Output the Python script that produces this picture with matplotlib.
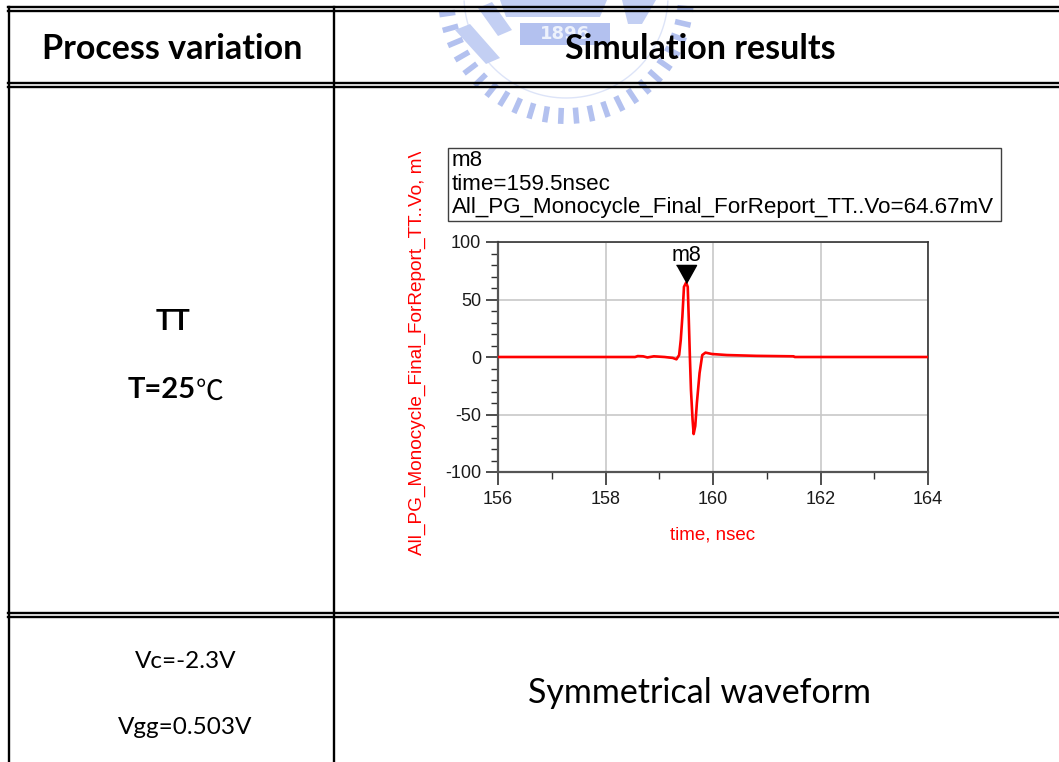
import numpy as np
import matplotlib.pyplot as plt
from matplotlib.patches import Rectangle, Polygon
from matplotlib.transforms import Bbox, TransformedBbox

# transient output of the monocycle pulse generator (TT corner, 25 C)
time_ns = [156.0, 158.55, 158.6, 158.7, 158.78, 158.9, 159.1, 159.25, 159.32,
           159.37, 159.40, 159.43, 159.46, 159.50, 159.53, 159.55, 159.57,
           159.59, 159.62, 159.64, 159.67, 159.70, 159.75, 159.80, 159.86,
           159.98, 160.26, 160.8, 161.5, 161.52, 164.0]
vo_mv = [0.0, 0.0, 0.8, 0.6, -0.4, 0.6, 0.0, -0.8, -2.0,
         1.7, 14.7, 35.0, 61.0, 64.67, 61.0, 32.0, 0.0,
         -28.6, -54.6, -67.0, -60.0, -40.0, -14.0, 1.7, 3.8,
         2.6, 1.7, 1.0, 0.6, 0.0, 0.0]

marker_name = "m8"
marker_time = 159.5
marker_value = 64.67
trace_name = "All_PG_Monocycle_Final_ForReport_TT..Vo"

x_ticks = [156, 158, 160, 162, 164]
y_ticks = [-100, -50, 0, 50, 100]

header = ["Process variation", "Simulation results"]
corner = ["TT", "T=25", "\u2103"]
bias = ["Vc=-2.3V", "Vgg=0.503V"]
remark = "Symmetrical waveform"

W, H = 1059, 762
fig = plt.figure(figsize=(W / 100, H / 100), dpi=100)

# page layer in pixel units (y down)
bg = fig.add_axes([0, 0, 1, 1], zorder=0)
bg.set_xlim(0, W)
bg.set_ylim(H, 0)
bg.axis('off')

# faint emblem behind the header
wm = '#b3c1ef'
cx, cy = 566, -4
for a in np.deg2rad(np.arange(6, 176, 7.2)):
    bg.plot([cx + 112 * np.cos(a), cx + 128 * np.cos(a)],
            [cy + 112 * np.sin(a), cy + 128 * np.sin(a)],
            color=wm, lw=4, solid_capstyle='butt', zorder=1)
ring = np.linspace(0.05, np.pi - 0.05, 200)
bg.plot(cx + 102 * np.cos(ring), cy + 102 * np.sin(ring), color='#dde4f8', lw=1, zorder=1)
fill = '#c3cff3'
bg.add_patch(Polygon([(500, 0), (607, 0), (600, 17), (506, 17)], color=fill, lw=0, zorder=1))
bg.add_patch(Polygon([(455, 30), (470, 24), (500, 58), (486, 64)], color=fill, lw=0, zorder=1))
bg.add_patch(Polygon([(478, 8), (492, 2), (512, 30), (498, 36)], color=fill, lw=0, zorder=1))
bg.add_patch(Polygon([(622, 0), (656, 0), (642, 24), (628, 24)], color=fill, lw=0, zorder=1))
bg.add_patch(Rectangle((520, 23), 90, 22, color='#b3c1ef', lw=0, zorder=1))
bg.text(565, 34, "1896", color='#eef2fc', fontsize=13, fontweight='bold',
        family='DejaVu Sans', ha='center', va='center', zorder=1)

# table rules
k = '#000000'
lw = 1.7
for y in (7, 11, 83, 87, 613, 617):
    bg.plot([8, W], [y, y], color=k, lw=lw, zorder=3)
bg.plot([9, 9], [7, H], color=k, lw=lw, zorder=3)
bg.plot([334, 334], [7, H], color=k, lw=lw, zorder=3)

cell = dict(ha='center', va='center', color='black', zorder=4)
bg.text(172, 49, header[0], family='Lato', fontsize=24.5, fontweight='bold', **cell)
bg.text(700, 49, header[1], family='Lato', fontsize=24.5, fontweight='bold', **cell)
bg.text(173, 322, corner[0], family='Lato', fontsize=21, fontweight='bold', **cell)
bg.text(196, 390, corner[1], family='Lato', fontsize=21, fontweight='bold',
        ha='right', va='center', zorder=4)
bg.text(196, 392, corner[2], family=['Noto Sans CJK SC', 'DejaVu Sans'], fontsize=20,
        ha='left', va='center', zorder=4)
bg.text(186, 662, bias[0], family='Lato', fontsize=17.5, **cell)
bg.text(185, 727, bias[1], family='Lato', fontsize=17.5, **cell)
bg.text(700, 693, remark, family='Lato', fontsize=24.5, **cell)

# marker readout box
chart_font = 'Liberation Sans'
bg.add_patch(Rectangle((448, 148), 553, 73, fill=False, ec='#404040', lw=1, zorder=4))
readout = [marker_name, f"time={marker_time}nsec", f"{trace_name}={marker_value}mV"]
for i, line in enumerate(readout):
    bg.text(452, 161 + 23 * i, line, family=chart_font, fontsize=16.1,
            ha='left', va='center', color='black', zorder=5)

# y label, clipped at the top like the simulator window
ylab = bg.text(422, 350, f"{trace_name}, mV", family=chart_font, fontsize=13.7,
               color='red', rotation=90, rotation_mode='anchor',
               ha='center', va='baseline', zorder=5)
ylab.set_clip_box(TransformedBbox(Bbox([[380, 152], [470, 600]]), bg.transData))
ylab.set_clip_on(True)

# waveform axes
ax = fig.add_axes([498 / W, (H - 472) / H, 430 / W, 230 / H], zorder=2)
ax.patch.set_alpha(0)
ax.plot(time_ns, vo_mv, color='#ff0000', lw=1.9, zorder=3)
ax.set_xlim(156, 164)
ax.set_ylim(-100, 100)
ax.set_xticks(x_ticks)
ax.set_yticks(y_ticks)
ax.set_xticks(np.arange(157, 164, 2), minor=True)
ax.set_yticks(np.arange(-90, 100, 10), minor=True)
ax.grid(True, which='major', color='#c8c8c8', lw=1.2)
ax.tick_params(which='major', length=9, width=1.2, color='#303030',
               labelsize=13, labelcolor='#1a1a1a')
ax.tick_params(which='minor', length=5, width=1.0, color='#303030')
ax.tick_params(axis='y', pad=3)
ax.tick_params(axis='x', pad=5)
for lab in ax.get_xticklabels() + ax.get_yticklabels():
    lab.set_family(chart_font)
ax.yaxis.set_major_formatter(plt.FuncFormatter(lambda v, p: f"{v:g}".replace('\u2212', '-')))
for side in ('left', 'bottom'):
    ax.spines[side].set_color('#555555')
    ax.spines[side].set_linewidth(1.6)
for side in ('top', 'right'):
    ax.spines[side].set_color('#333333')
    ax.spines[side].set_linewidth(1.2)

ax.set_xlabel("time, nsec", family=chart_font, fontsize=13.5, color='red')
ax.xaxis.set_label_coords(0.5, -0.235)

# marker triangle with its tip on the sample
tip = [(-10, 18), (10, 18), (0, 0)]
ax.plot([marker_time], [marker_value], marker=tip, ms=26, color='black', zorder=4, clip_on=False)
ax.annotate(marker_name, (marker_time, marker_value), xytext=(0, 19.5),
            textcoords='offset points', ha='center', va='center',
            family=chart_font, fontsize=15.5, color='black', zorder=5)

fig.savefig('out.png', dpi=100)
